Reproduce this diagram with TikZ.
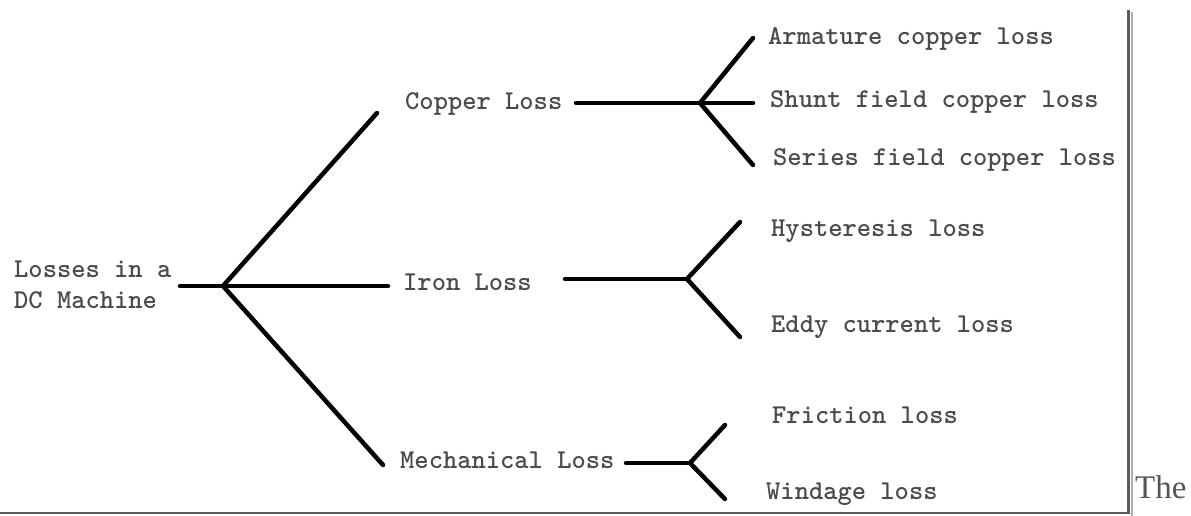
\documentclass[tikz,border=0pt]{standalone}
\usepackage{fontspec}
\newfontfamily\seriffnt{Liberation Serif}
\definecolor{txtgray}{RGB}{75,75,75}
\definecolor{thegray}{RGB}{85,85,85}
\definecolor{framedark}{RGB}{90,90,90}
\definecolor{framelight}{RGB}{175,175,175}
\begin{document}
\begin{tikzpicture}[x=1pt,y=-1pt,
  lbl/.style={font=\ttfamily\bfseries\fontsize{27.2}{31}\selectfont, text=txtgray, inner sep=0pt, anchor=base west},
  branch/.style={line width=4.5pt, line cap=round, line join=round, black}]
\useasboundingbox (0,0) rectangle (1191,516);
% labels
\node[lbl, align=left] (root) at (14,308) {Losses in a\\DC Machine};
\node[lbl] (copper) at (405,110) {Copper Loss};
\node[lbl] (iron) at (403,290) {Iron Loss};
\node[lbl] (mech) at (400,468) {Mechanical Loss};
\node[lbl] (arm) at (768,45) {Armature copper loss};
\node[lbl] (shunt) at (770,108) {Shunt field copper loss};
\node[lbl] (series) at (773,165) {Series field copper loss};
\node[lbl] (hyst) at (771,236) {Hysteresis loss};
\node[lbl] (eddy) at (771,332) {Eddy current loss};
\node[lbl] (fric) at (772,423) {Friction loss};
\node[lbl] (wind) at (766,499) {Windage loss};
% junctions and ends
\coordinate (r0) at (180,286);
\coordinate (j0) at (223,286);
\coordinate (a1) at (377,113);
\coordinate (a2) at (388,286);
\coordinate (a3) at (383,465);
\coordinate (cu0) at (576,103);
\coordinate (cuj) at (700,103);
\coordinate (cu1) at (753,38);
\coordinate (cu2) at (753,103);
\coordinate (cu3) at (753,165);
\coordinate (fe0) at (565,279);
\coordinate (fej) at (687,279);
\coordinate (fe1) at (740,222);
\coordinate (fe2) at (740,337);
\coordinate (me0) at (626,463);
\coordinate (mej) at (690,463);
\coordinate (me1) at (725,425);
\coordinate (me2) at (725,499);
% connectors
\draw[branch] (r0) -- (j0) -- (a2);
\draw[branch] (a1) -- (j0) -- (a3);
\draw[branch] (cu0) -- (cuj) -- (cu2);
\draw[branch] (cu1) -- (cuj) -- (cu3);
\draw[branch] (fe0) -- (fej);
\draw[branch] (fe1) -- (fej) -- (fe2);
\draw[branch] (me0) -- (mej);
\draw[branch] (me1) -- (mej) -- (me2);
% frame shadow
\draw[framelight, line width=2pt] (1131.5,12) -- (1131.5,515.5);
\draw[framedark, line width=2.5pt] (1128.5,10) -- (1128.5,513) -- (0,513);
\node[font=\seriffnt\fontsize{33}{36}\selectfont, text=thegray, inner sep=0pt, anchor=base west] (the) at (1135,498) {The};
\end{tikzpicture}
\end{document}
